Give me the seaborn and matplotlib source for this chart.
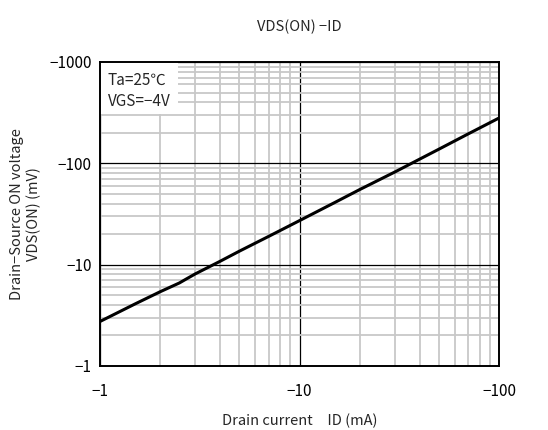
import numpy as np
import pandas as pd
import matplotlib
matplotlib.use("Agg")
import matplotlib.pyplot as plt
import matplotlib.ticker as mticker
from matplotlib.patches import Rectangle
import seaborn as sns

# data (magnitudes, axis labels carry the sign)
drain_current_mA = [1, 1.5, 2, 2.5, 2.7, 3, 4, 5, 7, 10, 15, 20, 30, 50, 70, 100]
vds_on_mV = [2.75, 4.1, 5.4, 6.6, 7.2, 8.1, 10.8, 13.6, 19.0, 27.2, 41, 55, 82, 138, 195, 280]

x_ticks = [1, 10, 100]
x_tick_labels = ["\u22121", "\u221210", "\u2212100"]
y_ticks = [1, 10, 100, 1000]
y_tick_labels = ["\u22121", "\u221210", "\u2212100", "\u22121000"]

df = pd.DataFrame({"ID": drain_current_mA, "VDS": vds_on_mV})

sns.set_style("white")
plt.rcParams["font.family"] = ["Noto Sans CJK JP", "DejaVu Sans"]

fig = plt.figure(figsize=(5.48, 4.30), dpi=100)
ax = fig.add_axes([100 / 548, 1 - 366 / 430, 399 / 548, 304 / 430])

ax.set_xscale("log")
ax.set_yscale("log")
ax.set_xlim(1, 100)
ax.set_ylim(1, 1000)

ax.xaxis.set_minor_locator(mticker.LogLocator(base=10, subs=np.arange(2, 10)))
ax.yaxis.set_minor_locator(mticker.LogLocator(base=10, subs=np.arange(2, 10)))
ax.grid(which="minor", color="#c8c8c8", linewidth=1.3)
ax.grid(which="major", color="black", linewidth=0.9)
ax.set_axisbelow(True)

sns.lineplot(data=df, x="ID", y="VDS", color="black", linewidth=2.2, ax=ax, zorder=3)

ax.set_xticks(x_ticks)
ax.set_xticklabels(x_tick_labels)
ax.set_yticks(y_ticks)
ax.set_yticklabels(y_tick_labels)
ax.xaxis.set_minor_formatter(mticker.NullFormatter())
ax.yaxis.set_minor_formatter(mticker.NullFormatter())
ax.tick_params(which="both", length=0, labelsize=11, colors="black")
ax.tick_params(axis="x", pad=12)
ax.tick_params(axis="y", pad=6)

for s in ax.spines.values():
    s.set_color("black")
    s.set_linewidth(1.4)
    s.set_zorder(4)

ax.set_xlabel("Drain current\u3000ID (mA)", fontsize=10.5, labelpad=10)
ax.set_ylabel("Drain\u2212Source ON voltage\nVDS(ON) (mV)", fontsize=10.5, labelpad=6)
ax.set_title("VDS(ON) \u2212ID", fontsize=10.5, pad=22)

# condition box (white patch over the grid)
ax.add_patch(Rectangle((0, 1 - 52 / 304), 78 / 399, 52 / 304, transform=ax.transAxes,
                       facecolor="white", edgecolor="none", zorder=2.5))
ax.text(8 / 399, 1 - 18 / 304, "Ta=25\u2103", transform=ax.transAxes,
        ha="left", va="center", fontsize=11, zorder=5)
ax.text(8 / 399, 1 - 40 / 304, "VGS=\u22124V", transform=ax.transAxes,
        ha="left", va="center", fontsize=11, zorder=5)

fig.savefig("out.png", dpi=100)
